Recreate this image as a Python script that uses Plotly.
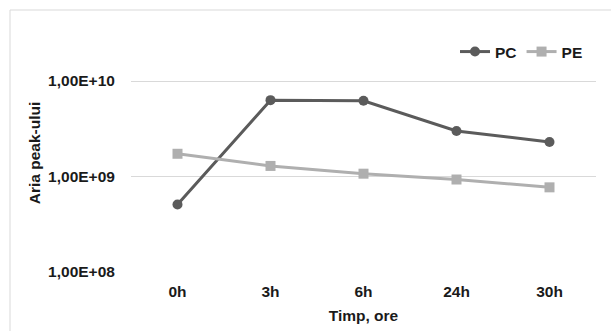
import plotly.graph_objects as go

categories = ["0h", "3h", "6h", "24h", "30h"]
pc_values = [5.1e8, 6.3e9, 6.2e9, 3.0e9, 2.3e9]
pe_values = [1.73e9, 1.29e9, 1.07e9, 9.3e8, 7.7e8]
y_tick_values = [1e8, 1e9, 1e10]
y_tick_labels = ["1,00E+08", "1,00E+09", "1,00E+10"]

W, H = 611, 331
L, R, T, B = 131, 15, 34, 59
pw = W - L - R
ph = H - T - B

FONT = "Liberation Sans, Arial, sans-serif"
TXT = "#1a1a1a"

fig = go.Figure()
fig.add_trace(go.Scatter(
    x=categories, y=pc_values, name="PC", mode="lines+markers",
    line=dict(color="#5b5b5b", width=3),
    marker=dict(symbol="circle", size=10, color="#5b5b5b"),
))
fig.add_trace(go.Scatter(
    x=categories, y=pe_values, name="PE", mode="lines+markers",
    line=dict(color="#afafaf", width=3),
    marker=dict(symbol="square", size=10, color="#afafaf"),
))

bold = dict(family=FONT, size=15.5, color=TXT, weight="bold")

fig.update_layout(
    width=W, height=H,
    margin=dict(l=L, r=R, t=T, b=B, pad=0, autoexpand=False),
    paper_bgcolor="white", plot_bgcolor="white",
    font=dict(family=FONT, size=15, color=TXT),
    showlegend=True,
    legend=dict(
        orientation="h", x=(588 - L) / pw, xanchor="right",
        y=(H - B - 52) / ph, yanchor="middle",
        font=bold, bgcolor="rgba(0,0,0,0)", itemwidth=30, tracegroupgap=0,
    ),
    xaxis=dict(
        type="category", range=[-0.5, 4.5], showgrid=False, showline=False, zeroline=False,
        automargin=False,
        ticks="outside", ticklen=5, tickcolor="rgba(0,0,0,0)",
        tickfont=bold,
        title=dict(text="Timp, ore", standoff=11, font=bold),
        fixedrange=True,
    ),
    yaxis=dict(
        type="log", range=[8, 8 + ph / 95.5], showgrid=True, gridcolor="#d9d9d9", gridwidth=1,
        showline=False, zeroline=False, automargin=False,
        tickvals=y_tick_values, ticktext=y_tick_labels,
        ticks="outside", ticklen=12, tickcolor="rgba(0,0,0,0)",
        tickfont=bold,
        title=dict(text="Aria peak-ului", standoff=3, font=bold),
        fixedrange=True,
    ),
    shapes=[dict(
        type="rect", xref="paper", yref="paper",
        x0=(10 - L) / pw, x1=(W + 20 - L) / pw,
        y0=(H - B - (H + 20)) / ph, y1=(H - B - 10) / ph,
        line=dict(color="#d9d9d9", width=1), fillcolor="rgba(0,0,0,0)", layer="below",
    )],
)

fig.write_html(
    "out.html",
    config={"displayModeBar": False, "staticPlot": True},
    post_script="document.body.style.margin='0';document.body.style.overflow='hidden';",
)
